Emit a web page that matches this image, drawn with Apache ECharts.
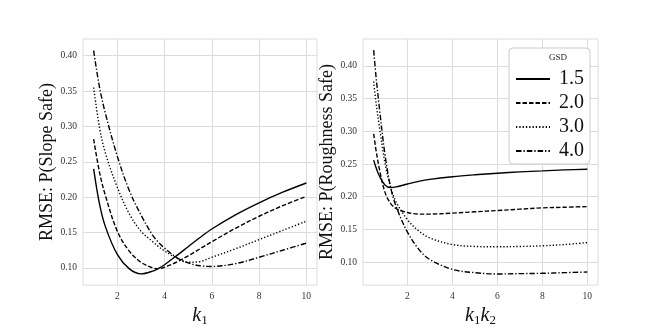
<!DOCTYPE html>
<html>
<head>
<meta charset="utf-8">
<script src="https://cdn.jsdelivr.net/npm/echarts@6/dist/echarts.min.js"></script>
<style>
html, body { margin: 0; padding: 0; background: #fff; }
#container { width: 664px; height: 332px; }
</style>
</head>
<body>
<div id="container"></div>
<script>
// GSD legend names
var gsdNames = ['1.5', '2.0', '3.0', '4.0'];

// left panel: k1
var leftX = [1, 1.25, 1.5, 2, 2.5, 3, 3.5, 3.75, 4, 4.5, 5, 5.5, 6, 7, 8, 9, 10];
var left15 = [0.240, 0.190, 0.158, 0.119, 0.099, 0.0915, 0.0955, 0.0995, 0.1045, 0.117, 0.130, 0.143, 0.155, 0.175, 0.192, 0.207, 0.220];
var left20 = [0.282, 0.235, 0.202, 0.152, 0.124, 0.108, 0.100, 0.099, 0.101, 0.108, 0.117, 0.127, 0.137, 0.156, 0.173, 0.188, 0.201];
var left30 = [0.355, 0.298, 0.262, 0.214, 0.177, 0.152, 0.137, 0.130, 0.124, 0.114, 0.108, 0.109, 0.115, 0.127, 0.140, 0.153, 0.166];
var left40 = [0.407, 0.355, 0.318, 0.258, 0.210, 0.175, 0.146, 0.136, 0.128, 0.115, 0.107, 0.103, 0.102, 0.106, 0.115, 0.125, 0.135];

// right panel: k1k2
var rightX = [0.5, 0.6, 0.75, 1, 1.25, 1.5, 2, 2.5, 3, 4, 5, 6, 7, 8, 9, 10];
var right15 = [0.256, 0.245, 0.232, 0.218, 0.214, 0.215, 0.2195, 0.2235, 0.2265, 0.2305, 0.2335, 0.236, 0.238, 0.2395, 0.241, 0.242];
var right20 = [0.296, 0.272, 0.243, 0.207, 0.190, 0.182, 0.176, 0.1735, 0.1735, 0.175, 0.177, 0.179, 0.181, 0.183, 0.184, 0.185];
var right30 = [0.376, 0.345, 0.308, 0.252, 0.215, 0.192, 0.165, 0.148, 0.137, 0.127, 0.124, 0.1235, 0.124, 0.125, 0.127, 0.130];
var right40 = [0.424, 0.385, 0.337, 0.265, 0.215, 0.185, 0.146, 0.120, 0.104, 0.089, 0.084, 0.082, 0.0825, 0.083, 0.084, 0.085];

var xTicks = [2, 4, 6, 8, 10];
var yTicks = [0.10, 0.15, 0.20, 0.25, 0.30, 0.35, 0.40];

var serif = 'Liberation Serif';
var dashTypes = ['solid', [4.5, 2], [1.3, 2], [5.5, 2, 1.3, 2]];

function pairs(xs, ys) {
    var out = [];
    for (var i = 0; i < xs.length; i++) {
        out.push([xs[i], ys[i]]);
    }
    return out;
}

function makeX(idx, min, max, sub) {
    return {
        type: 'value', gridIndex: idx, min: min, max: max,
        name: sub, nameLocation: 'middle', nameGap: 16,
        nameTextStyle: {
            rich: {
                k: { fontFamily: serif, fontStyle: 'italic', fontSize: 20, color: '#111' },
                s: { fontFamily: serif, fontSize: 13, color: '#111', padding: [9, 0, 0, 0] }
            }
        },
        axisLine: { show: false },
        axisTick: { show: false, customValues: xTicks },
        axisLabel: { customValues: xTicks, fontFamily: serif, fontSize: 9.5, color: '#333', margin: 6 },
        splitLine: { show: true, lineStyle: { color: '#dcdcdc', width: 1 } }
    };
}

function makeY(idx, min, max, name, gap) {
    return {
        type: 'value', gridIndex: idx, min: min, max: max,
        name: name, nameLocation: 'middle', nameGap: gap,
        nameTextStyle: { fontFamily: serif, fontSize: 18, color: '#111' },
        axisLine: { show: false },
        axisTick: { show: false, customValues: yTicks },
        axisLabel: {
            customValues: yTicks, fontFamily: serif, fontSize: 9.5, color: '#333', margin: 6,
            formatter: function (v) { return v.toFixed(2); }
        },
        splitLine: { show: true, lineStyle: { color: '#dcdcdc', width: 1 } }
    };
}

var leftData = [left15, left20, left30, left40];
var rightData = [right15, right20, right30, right40];
var series = [];
for (var i = 0; i < 4; i++) {
    series.push({
        name: gsdNames[i], type: 'line', xAxisIndex: 0, yAxisIndex: 0,
        data: pairs(leftX, leftData[i]), smooth: 0.35, symbol: 'none',
        itemStyle: { color: '#000' },
        lineStyle: { color: '#000', width: 1.4, type: dashTypes[i] }
    });
}
for (var i = 0; i < 4; i++) {
    series.push({
        name: gsdNames[i], type: 'line', xAxisIndex: 1, yAxisIndex: 1,
        data: pairs(rightX, rightData[i]), smooth: 0.35, symbol: 'none',
        itemStyle: { color: '#000' },
        lineStyle: { color: '#000', width: 1.4, type: dashTypes[i] }
    });
}

var dom = document.getElementById('container');
var myChart = echarts.init(dom, null, { renderer: 'canvas' });
var option = {
    backgroundColor: '#fff',
    animation: false,
    grid: [
        { left: 83, top: 39, width: 234, height: 256, show: true, borderColor: '#dcdcdc', borderWidth: 1, backgroundColor: 'transparent' },
        { left: 363, top: 39, width: 235, height: 256, show: true, borderColor: '#dcdcdc', borderWidth: 1, backgroundColor: 'transparent' }
    ],
    xAxis: [
        makeX(0, 0.55, 10.45, '{k|k}{s|1}'),
        makeX(1, 0.025, 10.475, '{k|k}{s|1}{k|k}{s|2}')
    ],
    yAxis: [
        makeY(0, 0.0757, 0.4235, 'RMSE: P(Slope Safe)', 27),
        makeY(1, 0.065, 0.441, 'RMSE: P(Roughness Safe)', 20)
    ],
    legend: {
        data: gsdNames,
        orient: 'vertical',
        left: 509, top: 48,
        padding: [21, 6, 3, 6],
        itemWidth: 34, itemHeight: 14, itemGap: 4,
        backgroundColor: '#fff',
        borderColor: '#cccccc', borderWidth: 1, borderRadius: 4,
        itemStyle: { opacity: 0 },
        textStyle: { fontFamily: serif, fontSize: 20, color: '#111', lineHeight: 20, padding: [0, 0, 0, 4] }
    },
    graphic: [{
        type: 'text', left: 549, top: 53, z: 100,
        style: { text: 'GSD', fontFamily: serif, fontSize: 9, fill: '#222', align: 'center' }
    }],
    series: series
};
myChart.setOption(option, true);
</script>
</body>
</html>
